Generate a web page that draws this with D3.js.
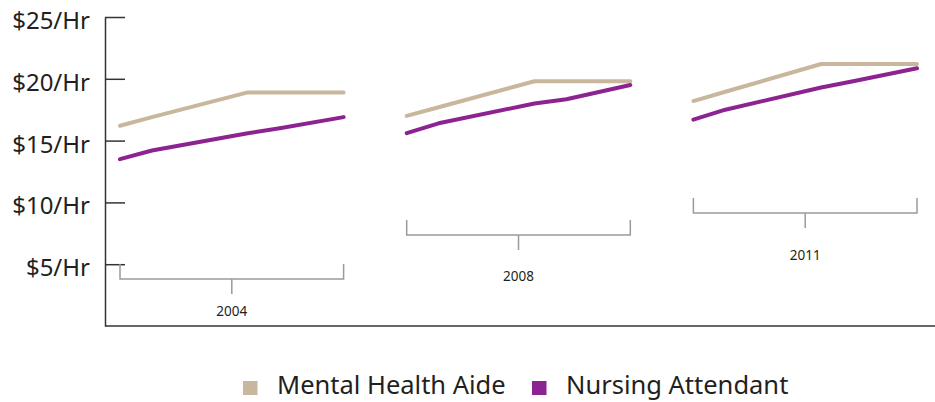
<!DOCTYPE html>
<html lang="en">
  <head>
    <title>hourly_wages</title>
    <script src="https://d3js.org/d3.v7.min.js"></script>
    <style>
      body {margin:0; background-color:white;}
      svg {display:block; font-family:"Noto Sans", sans-serif;}
      .line {fill:none; stroke-width:4; stroke-linecap:round; stroke-linejoin:round;}
      .bracket {fill:none; stroke:#9a9a9a; stroke-width:1.5;}
    </style>
  </head>
  <body>
    <script>
      // data
      const years = ['2004', '2008', '2011'];
      const steps = [0, 1, 4, 5, 7];
      const mentalHealthAide = [
        [16.2, 16.9, 18.9, 18.9, 18.9],
        [17.0, 17.7, 19.8, 19.8, 19.8],
        [18.2, 18.95, 21.2, 21.2, 21.2]
      ];
      const nursingAttendant = [
        [13.5, 14.2, 15.6, 16.0, 16.9],
        [15.6, 16.4, 18.0, 18.35, 19.5],
        [16.7, 17.5, 19.3, 19.8, 20.85]
      ];
      const yTicks = [5, 10, 15, 20, 25];
      const seriesNames = ['Mental Health Aide', 'Nursing Attendant'];
      const colors = ['#c8b79d', '#8c2390'];

      const width = 935;
      const height = 402;
      // bracket placement under each year group (layout only)
      const bracketTop = [264, 220, 198];
      const labelY = [316, 281, 260];

      const svg = d3.select('body').append('svg')
        .attr('width', width).attr('height', height);

      const x = d3.scaleBand()
        .domain(years)
        .range([120, 917])
        .paddingInner(0.22)
        .paddingOuter(0);

      const inner = d3.scaleLinear()
        .domain([0, 7])
        .range([0, x.bandwidth()]);

      const y = d3.scaleLinear()
        .domain([0, 25])
        .range([326, 17]);

      // y axis: ticks point into the plot, labels on the left
      const yAxis = g => g
        .attr('transform', 'translate(105, 0)')
        .call(d3.axisLeft(y)
          .tickValues(yTicks)
          .tickFormat(d => '$' + d + '/Hr')
          .tickSizeInner(-20)
          .tickSizeOuter(0)
          .tickPadding(15))
        .call(g => g.selectAll('.domain, .tick line').attr('stroke', '#333').attr('stroke-width', 1.5))
        .call(g => g.selectAll('.tick text')
          .attr('fill', '#231f20')
          .attr('font-size', 24)
          .attr('font-family', '"Noto Sans", sans-serif')
          .attr('dy', '0.48em'));

      svg.append('g').call(yAxis);

      // bottom line
      svg.append('line')
        .attr('x1', 105).attr('x2', width)
        .attr('y1', y(0)).attr('y2', y(0))
        .attr('stroke', '#333').attr('stroke-width', 1.5);

      const line = d3.line()
        .x(d => d.x)
        .y(d => y(d.v));

      const allSeries = [mentalHealthAide, nursingAttendant];
      allSeries.forEach((series, si) => {
        years.forEach((yr, gi) => {
          const pts = steps.map((s, i) => ({x: x(yr) + inner(s), v: series[gi][i]}));
          svg.append('path')
            .attr('class', 'line')
            .attr('stroke', colors[si])
            .attr('d', line(pts));
        });
      });

      // year brackets
      years.forEach((yr, gi) => {
        const x0 = x(yr), x1 = x(yr) + x.bandwidth(), xc = x(yr) + x.bandwidth() / 2;
        const t = bracketTop[gi], b = t + 15;
        svg.append('path')
          .attr('class', 'bracket')
          .attr('d', `M${x0},${t}V${b}H${x1}V${t}M${xc},${b}V${b + 15}`);
        svg.append('text')
          .attr('x', xc).attr('y', labelY[gi])
          .attr('text-anchor', 'middle')
          .attr('font-size', 13.5)
          .attr('fill', '#231f20')
          .text(yr);
      });

      // legend
      const legendX = [243, 532];
      const legend = svg.append('g');
      seriesNames.forEach((name, i) => {
        legend.append('rect')
          .attr('x', legendX[i]).attr('y', 381)
          .attr('width', 14.5).attr('height', 14)
          .attr('fill', colors[i]);
        legend.append('text')
          .attr('x', legendX[i] + 34).attr('y', 394)
          .attr('font-size', 25.5)
          .attr('fill', '#231f20')
          .text(name);
      });
    </script>
  </body>
</html>
